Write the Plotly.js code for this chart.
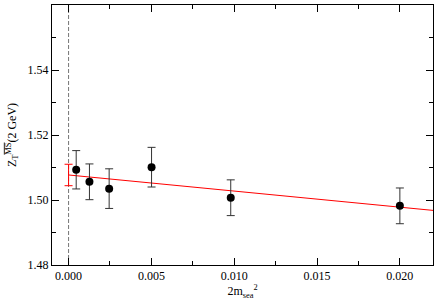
<!DOCTYPE html>
<html><head><meta charset="utf-8">
<script src="https://cdn.plot.ly/plotly-3.0.1.min.js"></script>
<style>body{margin:0;background:#fff}#chart{width:436px;height:301px}</style>
</head><body><div id="chart"></div>
<script>
const mSea = [0.00046, 0.00126, 0.00245, 0.00501, 0.00979, 0.0200];
const zT = [1.5093, 1.5056, 1.5035, 1.5101, 1.5007, 1.4982];
const zErr = [0.0059, 0.0055, 0.0061, 0.0061, 0.0055, 0.0055];
const fitX = [0.0, 0.022];
const fitY = [1.5077, 1.4968];
const extrapX = [0.0];
const extrapY = [1.5077];
const extrapErr = [0.0033];
const vlineX = 0;

const font = {family: 'Liberation Serif', size: 12, color: '#000'};
const traces = [
  {x: fitX, y: fitY, mode: 'lines', line: {color: '#ff0000', width: 1}, showlegend: false},
  {x: extrapX, y: extrapY, mode: 'markers', marker: {size: 1, color: 'rgba(0,0,0,0)'},
   error_y: {type: 'data', array: extrapErr, visible: true, color: '#ff0000', thickness: 1, width: 4}, showlegend: false},
  {x: mSea, y: zT, mode: 'markers', marker: {size: 8, color: '#000'},
   error_y: {type: 'data', array: zErr, visible: true, color: '#333', thickness: 1, width: 4}, showlegend: false}
];
const axBase = {showline: true, linecolor: '#000', linewidth: 1, mirror: 'ticks', ticks: 'inside',
  ticklen: 7, tickcolor: '#000', tickwidth: 1, showgrid: false, zeroline: false, tickfont: font};
const layout = {
  width: 436, height: 301, margin: {l: 52, r: 3, t: 5, b: 36},
  paper_bgcolor: '#fff', plot_bgcolor: '#fff', font: font,
  shapes: [{type: 'line', xref: 'x', yref: 'paper', x0: vlineX, x1: vlineX, y0: 0, y1: 1,
    line: {color: '#777', width: 1, dash: '4px,2px'}, layer: 'below'}],
  xaxis: Object.assign({}, axBase, {range: [-0.001, 0.022], tickvals: [0, 0.005, 0.01, 0.015, 0.02],
    ticktext: ['0.000', '0.005', '0.010', '0.015', '0.020'],
    minor: {tickvals: [0.0025, 0.0075, 0.0125, 0.0175], ticks: 'inside', ticklen: 4, tickcolor: '#000'},
    title: {text: '2m<sub>sea</sub><sup>2</sup>', font: font, standoff: 2}}),
  yaxis: Object.assign({}, axBase, {range: [1.48, 1.56], tickvals: [1.48, 1.50, 1.52, 1.54, 1.56],
    ticktext: ['1.48', '1.50', '1.52', '1.54', '1.56'],
    minor: {tickvals: [1.49, 1.51, 1.53, 1.55], ticks: 'inside', ticklen: 4, tickcolor: '#000'},
    title: {text: "Z<sub>T</sub><sup><span style='text-decoration:overline'>MS</span></sup>(2 GeV)", font: font, standoff: 8}})
};
Plotly.newPlot('chart', traces, layout, {staticPlot: true});
</script></body></html>
